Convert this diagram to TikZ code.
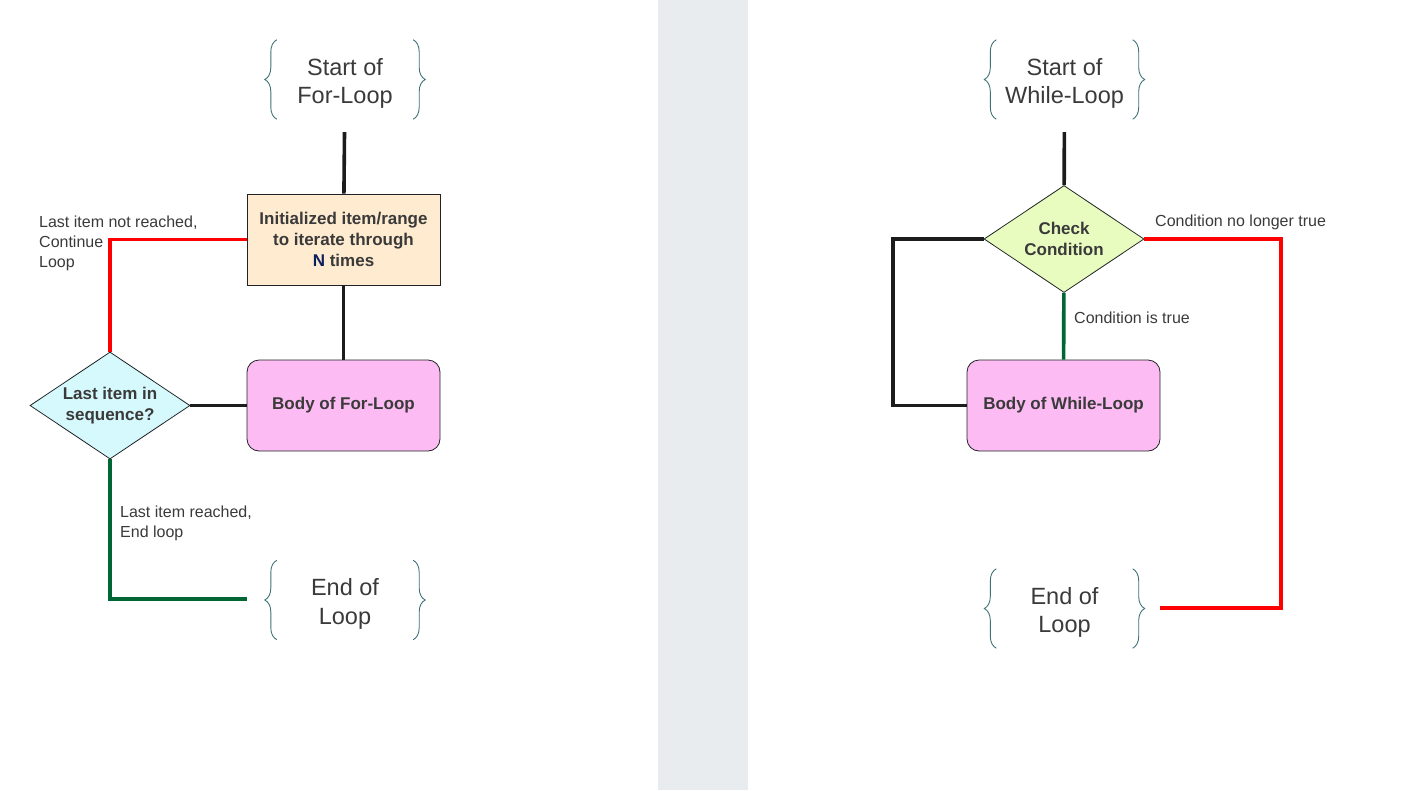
\documentclass[tikz,border=0pt]{standalone}
\usepackage{fontspec}
\setmainfont{Liberation Sans}
\usetikzlibrary{shapes.geometric,decorations.pathreplacing}
\definecolor{txtgray}{HTML}{3A3A3A}
\definecolor{bracecol}{HTML}{3F7377}
\definecolor{boxline}{HTML}{1E2424}
\definecolor{initfill}{HTML}{FFEBD0}
\definecolor{bodypink}{HTML}{FCBBF3}
\definecolor{testcyan}{HTML}{D6F9FD}
\definecolor{testlime}{HTML}{E9FCC0}
\definecolor{flowblack}{HTML}{1C1C1C}
\definecolor{flowred}{HTML}{FF0000}
\definecolor{flowgreen}{HTML}{006633}
\definecolor{bandgray}{HTML}{E8ECEF}
\definecolor{navy}{HTML}{0B1F5E}
\newcommand{\termtext}[1]{\raisebox{-10.5pt}[0pt][0pt]{\begin{tabular}{@{}c@{}}#1\end{tabular}}}

\begin{document}
\begin{tikzpicture}[x=1pt,y=-1pt,
	term node/.style = {minimum width=136pt, minimum height=79pt, inner sep=0pt,
		text=txtgray, font=\fontsize{23.5}{28.5}\selectfont},
	brace line/.style = {draw=bracecol, line width=0.9pt, decorate,
		decoration={brace, amplitude=12pt}},
	box node/.style = {rectangle, draw=boxline, line width=0.8pt, minimum width=193pt,
		minimum height=91pt, align=center, text=txtgray,
		font=\bfseries\fontsize{17}{21}\selectfont},
	body node/.style = {box node, rounded corners=12pt, fill=bodypink},
	test node/.style = {diamond, draw=boxline, line width=0.8pt, aspect=1.5, inner sep=0pt,
		minimum width=160pt, minimum height=107pt, align=center, text=txtgray,
		font=\bfseries\fontsize{17}{21}\selectfont},
	flow/.style = {line width=3.6pt, draw=flowblack},
	go on/.style = {flow, draw=flowred},
	leave/.style = {flow, draw=flowgreen},
	note/.style = {anchor=north west, inner sep=0pt, align=left, text=txtgray,
		font=\fontsize{16}{19.7}\selectfont}]

	\useasboundingbox (0,0) rectangle (1407,790);
	\fill[bandgray] (658,0) rectangle (748,790);

	% for loop
	\node[term node] (fstart) at (345,79.5) {\termtext{Start of\\For-Loop}};
	\node[box node,fill=initfill] (finit) at (343.5,239.5) {Initialized item/range\\to iterate through\\{\color{navy}N} times};
	\node[body node] (fbody) at (343.5,405.5) {Body of For-Loop};
	\node[test node,fill=testcyan] (flast) at (110,405.5) {Last item in\\sequence?};
	\node[term node] (fend) at (345,600) {\termtext{End of\\Loop}};

	\node[note] (fcont) at (39,216) {Last item not reached,\\Continue\\Loop};
	\node[note] (fdone) at (120,506) {Last item reached,\\End loop};

	\coordinate (fendin) at (247,599);

	% while loop
	\node[term node] (wstart) at (1064.5,79.5) {\termtext{Start of\\While-Loop}};
	\node[test node,fill=testlime] (wtest) at (1064,239) {Check\\Condition};
	\node[body node] (wbody) at (1063.5,405.5) {Body of While-Loop};
	\node[term node] (wend) at (1064.5,608.5) {\termtext{End of\\Loop}};

	\node[note] (wtrue) at (1074,312) {Condition is true};
	\node[note] (wfalse) at (1155,215) {Condition no longer true};

	\coordinate (wback) at (893,239);
	\coordinate (wout) at (1281,239);
	\coordinate (wendin) at (1160,608);

	% braces
	\foreach \t in {fstart,fend,wstart,wend}{
		\draw[brace line] (\t.south west) -- (\t.north west);
		\draw[brace line] (\t.north east) -- (\t.south east);
	}

	% connectors
	\draw[flow,shorten <=13pt] (fstart) -- (finit);
	\draw[flow] (finit) -- (fbody);
	\draw[flow] (flast) -- (fbody);
	\draw[go on] (flast.north) |- (finit.west);
	\draw[leave] (flast.south) |- (fendin);

	\draw[flow,shorten <=13pt] (wstart) -- (wtest);
	\draw[leave] (wtest) -- (wbody);
	\draw[flow] (wtest.west) -- (wback) |- (wbody.west);
	\draw[go on] (wtest.east) -- (wout) |- (wendin);
\end{tikzpicture}
\end{document}
